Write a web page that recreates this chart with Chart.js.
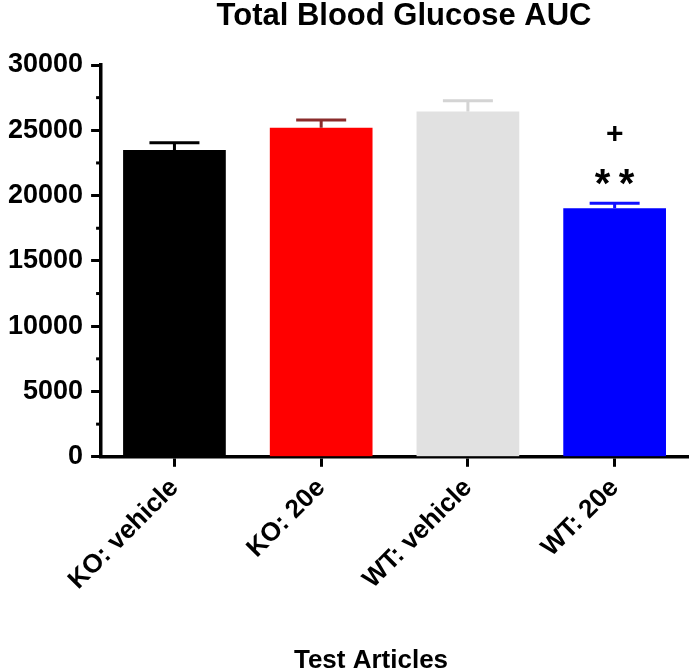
<!DOCTYPE html>
<html>
<head>
<meta charset="utf-8">
<script src="https://cdn.jsdelivr.net/npm/chart.js@4.4.0/dist/chart.umd.min.js"></script>
<style>
  html, body { margin: 0; padding: 0; background: #fff; }
  #wrap { width: 693px; height: 671px; }
</style>
</head>
<body>
<div id="wrap"><canvas id="chart"></canvas></div>
<script>
// values
const groups = ['KO: vehicle', 'KO: 20e', 'WT: vehicle', 'WT: 20e'];
const aucMean = [23500, 25200, 26430, 19030];
const aucSem = [550, 590, 840, 390];
const yMinorTicks = [2500, 7500, 12500, 17500, 22500, 27500];
const starMarks = ['', '', '', '**'];
const plusMarks = ['', '', '', '+'];

const barColors = ['#000000', '#ff0000', '#e1e1e1', '#0000ff'];
const errColors = ['#000000', '#8a2c2c', '#d4d4d4', '#1010ff'];
const FONT = "'Liberation Sans', Arial, sans-serif";

const extras = {
  id: 'extras',
  afterDatasetsDraw(chart) {
    const ctx = chart.ctx;
    const y = chart.scales.y;
    const area = chart.chartArea;
    const meta = chart.getDatasetMeta(0);
    ctx.save();
    // error bars (upper only)
    meta.data.forEach((bar, i) => {
      const cx = bar.x;
      const yTop = y.getPixelForValue(aucMean[i]);
      const yErr = y.getPixelForValue(aucMean[i] + aucSem[i]);
      ctx.strokeStyle = errColors[i];
      ctx.lineWidth = 3;
      ctx.beginPath();
      ctx.moveTo(cx, yTop);
      ctx.lineTo(cx, yErr);
      ctx.moveTo(cx - 25, yErr);
      ctx.lineTo(cx + 25, yErr);
      ctx.stroke();

      ctx.fillStyle = '#000';
      ctx.textAlign = 'center';
      ctx.textBaseline = 'alphabetic';
      if (starMarks[i]) {
        ctx.font = 'bold 40px ' + FONT;
        ctx.fillText('*', cx - 12, yErr - 6);
        ctx.fillText('*', cx + 12, yErr - 6);
      }
      if (plusMarks[i]) {
        ctx.font = 'bold 30px ' + FONT;
        ctx.fillText(plusMarks[i], cx, yErr - 60);
      }
    });
    // minor ticks on the y axis
    ctx.strokeStyle = '#000';
    ctx.lineWidth = 3;
    yMinorTicks.forEach(v => {
      const py = y.getPixelForValue(v);
      ctx.beginPath();
      ctx.moveTo(area.left - 5, py);
      ctx.lineTo(area.left, py);
      ctx.stroke();
    });
    ctx.restore();
  },
  afterDraw(chart) {
    const ctx = chart.ctx;
    ctx.save();
    ctx.fillStyle = '#000';
    ctx.textAlign = 'center';
    ctx.textBaseline = 'alphabetic';
    ctx.font = 'bold 31px ' + FONT;
    ctx.fillText('Total Blood Glucose AUC', 404, 25);
    ctx.font = 'bold 26px ' + FONT;
    ctx.fillText('Test Articles', 371, 668);
    ctx.restore();
  }
};

new Chart(document.getElementById('chart'), {
  type: 'bar',
  data: {
    labels: groups,
    datasets: [{
      data: aucMean,
      backgroundColor: barColors,
      borderWidth: 0,
      barPercentage: 0.7,
      categoryPercentage: 1.0
    }]
  },
  options: {
    responsive: true,
    maintainAspectRatio: false,
    animation: false,
    layout: { autoPadding: false, padding: { top: 65, bottom: 69, left: 0, right: 5 } },
    plugins: {
      legend: { display: false },
      tooltip: { enabled: false },
      title: { display: false }
    },
    scales: {
      x: {
        grid: { drawOnChartArea: false, offset: false, tickLength: 10, tickWidth: 3, tickColor: '#000' },
        border: { color: '#000', width: 3.5 },
        ticks: {
          color: '#000',
          font: { family: FONT, size: 26, weight: 'bold' },
          minRotation: 45,
          maxRotation: 45,
          padding: 6
        }
      },
      y: {
        min: 0,
        max: 30000,
        grid: { drawOnChartArea: false, tickLength: 10, tickWidth: 3, tickColor: '#000' },
        border: { color: '#000', width: 3.5 },
        ticks: {
          stepSize: 5000,
          color: '#000',
          padding: 8,
          font: { family: FONT, size: 27, weight: 'bold' },
          callback: v => String(v)
        }
      }
    }
  },
  plugins: [extras]
});
</script>
</body>
</html>
